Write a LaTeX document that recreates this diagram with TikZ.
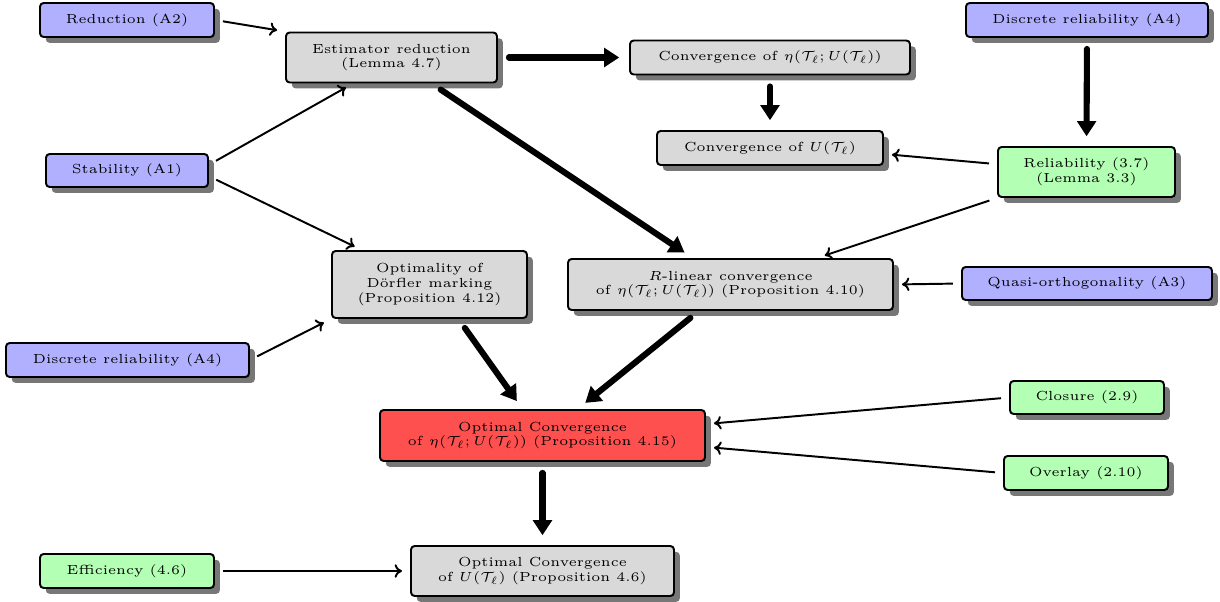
\RequirePackage{fix-cm}
\documentclass[tikz,border=0pt]{standalone}
\usetikzlibrary{shadows,arrows.meta}
\DeclareMathSizes{5.4}{5.4}{4.4}{3.8}
\definecolor{cblue}{HTML}{B0B0FF}
\definecolor{cgreen}{HTML}{B3FFB3}
\definecolor{cgray}{HTML}{D9D9D9}
\definecolor{cred}{HTML}{FF5050}
\definecolor{cshadow}{HTML}{777777}
\tikzset{
  sz/.style 2 args={minimum width=#1*0.41pt, minimum height=#2*0.41pt},
  box/.style={draw, line width=0.8pt, rounded corners=1.5pt, align=center,
    font=\fontsize{5.4pt}{6pt}\selectfont, inner sep=0pt,
    drop shadow={shadow xshift=2.4pt, shadow yshift=-2.4pt, fill=cshadow, opacity=1}},
  bluebox/.style={box, fill=cblue},
  greenbox/.style={box, fill=cgreen},
  graybox/.style={box, fill=cgray},
  redbox/.style={box, fill=cred},
  thin arrow/.style={line width=0.8pt, -{To[length=3pt,width=5.5pt]},
    shorten >=3.3pt, shorten <=3.3pt},
  thick arrow/.style={line width=2.5pt, line cap=round,
    -{Triangle[length=6.2pt,width=7.6pt]}, shorten >=4pt, shorten <=4.5pt},
}
\begin{document}
\begin{tikzpicture}[x=0.41pt, y=-0.41pt]
\useasboundingbox (0,0) rectangle (1220,602);

\node[bluebox, sz={174}{34}] (red) at (127,20) {Reduction (A2)};
\node[graybox, sz={211}{50}] (est) at (391.5,57.5) {Estimator reduction\\(Lemma 4.7)};
\node[graybox, sz={280}{34}] (conveta) at (770,57.5) {Convergence of $\eta(\mathcal{T}_\ell;U(\mathcal{T}_\ell))$};
\node[bluebox, sz={242}{34}] (drtop) at (1087,20) {Discrete reliability (A4)};
\node[graybox, sz={226}{34}] (convU) at (770,148) {Convergence of $U(\mathcal{T}_\ell)$};
\node[bluebox, sz={162}{33}] (stab) at (127,170.5) {Stability (A1)};
\node[greenbox, sz={177}{50}] (rel) at (1086.5,172) {Reliability (3.7)\\(Lemma 3.3)};
\node[graybox, sz={195}{67}] (opt) at (429.5,284.5) {Optimality of\\D\"orfler marking\\(Proposition 4.12)};
\node[graybox, sz={325}{51}] (rlin) at (730.5,284.5) {$R$-linear convergence\\of $\eta(\mathcal{T}_\ell;U(\mathcal{T}_\ell))$ (Proposition 4.10)};
\node[bluebox, sz={250}{33}] (quasi) at (1087,283.5) {Quasi-orthogonality (A3)};
\node[bluebox, sz={243}{34}] (drleft) at (127.5,360) {Discrete reliability (A4)};
\node[redbox, sz={325}{51}] (optconv) at (542.5,435.5) {Optimal Convergence\\of $\eta(\mathcal{T}_\ell;U(\mathcal{T}_\ell))$ (Proposition 4.15)};
\node[greenbox, sz={154}{33}] (clos) at (1087,397.5) {Closure (2.9)};
\node[greenbox, sz={164}{34}] (over) at (1086,473) {Overlay (2.10)};
\node[greenbox, sz={174}{34}] (eff) at (127,571) {Efficiency (4.6)};
\node[graybox, sz={263}{50}] (optU) at (542.5,571) {Optimal Convergence\\of $U(\mathcal{T}_\ell)$ (Proposition 4.6)};

% thin arrows
\draw[thin arrow] (red.east) -- (est.north west);
\draw[thin arrow] (stab.4) -- (est.214);
\draw[thin arrow] (stab.-4) -- (opt.153);
\draw[thin arrow] (rel.175) -- (convU.-3.5);
\draw[thin arrow] (rel.south west) -- (rlin.17.8);
\draw[thin arrow] (quasi.west) -- (rlin.east);
\draw[thin arrow] (drleft.east) -- (opt.south west);
\draw[thin arrow] (clos.west) -- (optconv.4.5);
\draw[thin arrow] (over.west) -- (optconv.-4.8);
\draw[thin arrow] (eff.east) -- (optU.west);

% thick arrows
\draw[thick arrow] (est.east) -- (conveta.west);
\draw[thick arrow] (conveta.south) -- (convU.north);
\draw[thick arrow] (drtop.south) -- (rel.north);
\draw[thick arrow] (est.-33) -- (rlin.145.4);
\draw[thick arrow] (opt.-50.6) -- (optconv.127.4);
\draw[thick arrow] (rlin.-140) -- (optconv.37.7);
\draw[thick arrow] (optconv.south) -- (optU.north);
\end{tikzpicture}
\end{document}
